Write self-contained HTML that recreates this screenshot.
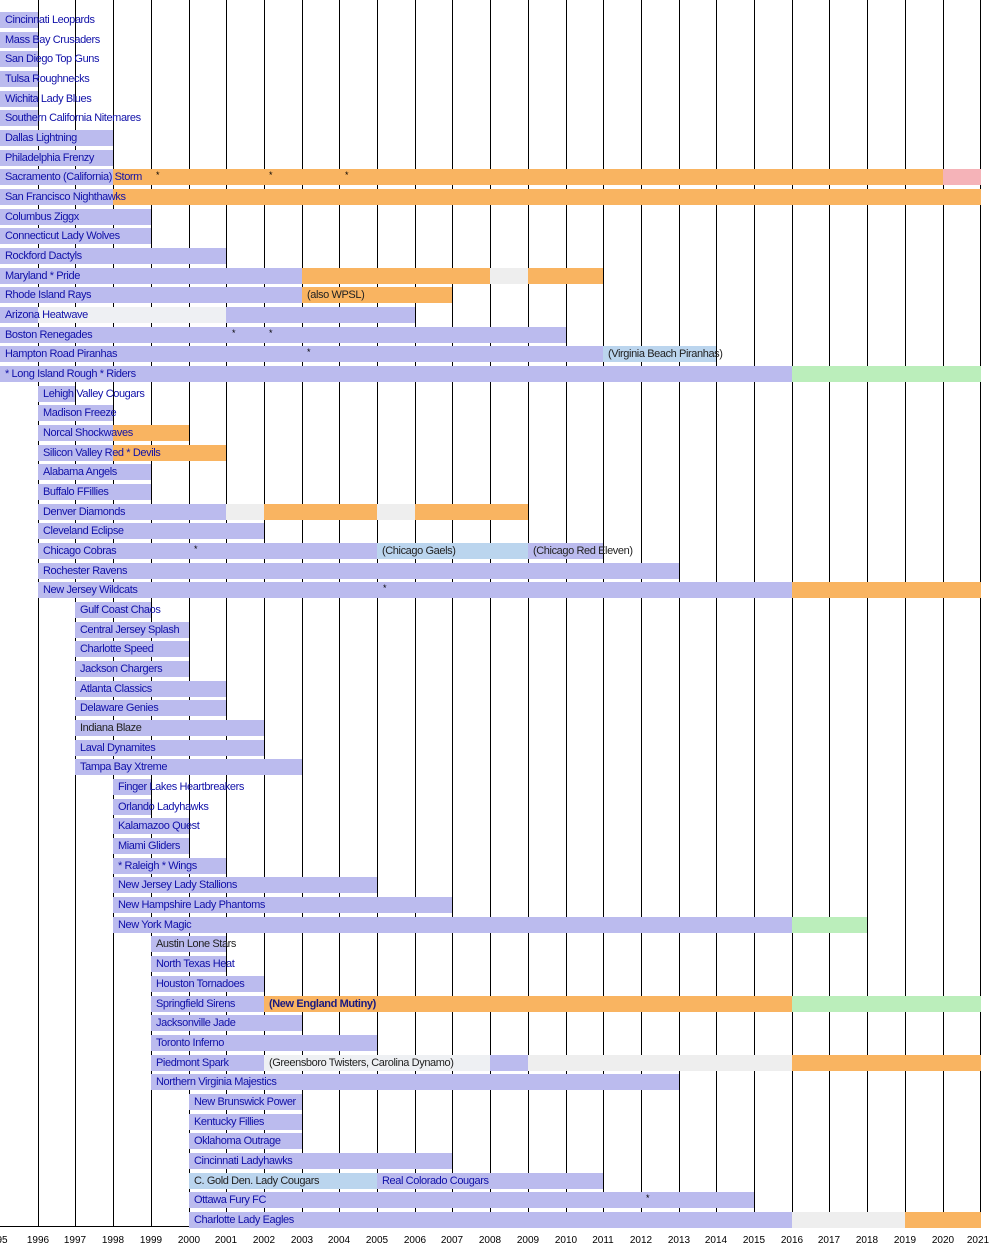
<!DOCTYPE html>
<html><head><meta charset="utf-8">
<style>
html,body{margin:0;padding:0;background:#fff;}
#c{position:relative;width:1000px;height:1245px;overflow:hidden;font-family:"Liberation Sans",Arial,sans-serif;}
.v{position:absolute;top:0;width:1px;height:1226px;background:#000;}
.b{position:absolute;height:16px;}
.t{position:absolute;font-size:11px;line-height:16px;white-space:nowrap;color:#1010a8;letter-spacing:-0.4px;z-index:3;}
.k{color:#222;}
.s{position:absolute;font-size:9px;color:#000;z-index:3;line-height:10px;}
.y{position:absolute;top:1235px;font-size:10px;color:#000;width:40px;text-align:center;}
</style></head><body><div id="c"></div>
<script>
var P='#bbbbee',O='#f9b461',G='#bbeebb',W='#eeeeee',K='#f5b3b8',L='#bbd5ee',Q='#eef0f3';
function X(y){return Math.round((y-1995)*37.7);}
var R=[
["Cincinnati Leopards",0,[[1995,1996,P]]],
["Mass Bay Crusaders",0,[[1995,1996,P]]],
["San Diego Top Guns",0,[[1995,1996,P]]],
["Tulsa Roughnecks",0,[[1995,1996,P]]],
["Wichita Lady Blues",0,[[1995,1996,P]]],
["Southern California Nitemares",0,[[1995,1996,P]]],
["Dallas Lightning",0,[[1995,1998,P]]],
["Philadelphia Frenzy",0,[[1995,1998,P]]],
["Sacramento (California) Storm",0,[[1995,1998,P],[1998,2020,O],[2020,2021,K]],[1999.2,2002.2,2004.2]],
["San Francisco Nighthawks",0,[[1995,1998,P],[1998,2021,O]]],
["Columbus Ziggx",0,[[1995,1999,P]]],
["Connecticut Lady Wolves",0,[[1995,1999,P]]],
["Rockford Dactyls",0,[[1995,2001,P]]],
["Maryland * Pride",0,[[1995,2003,P],[2003,2008,O],[2008,2009,W],[2009,2011,O]]],
["Rhode Island Rays",0,[[1995,2003,P],[2003,2007,O,"(also WPSL)",1]]],
["Arizona Heatwave",0,[[1995,1996,P],[1996,2001,Q],[2001,2006,P]]],
["Boston Renegades",0,[[1995,2010,P]],[2001.2,2002.2]],
["Hampton Road Piranhas",0,[[1995,2011,P],[2011,2014,L,"(Virginia Beach Piranhas)",1]],[2003.2]],
["* Long Island Rough * Riders",0,[[1995,2016,P],[2016,2021,G]]],
["Lehigh Valley Cougars",0,[[1996,1997,P]]],
["Madison Freeze",0,[[1996,1998,P]]],
["Norcal Shockwaves",0,[[1996,1998,P],[1998,2000,O]]],
["Silicon Valley Red * Devils",0,[[1996,1998,P],[1998,2001,O]]],
["Alabama Angels",0,[[1996,1999,P]]],
["Buffalo FFillies",0,[[1996,1999,P]]],
["Denver Diamonds",0,[[1996,2001,P],[2001,2002,W],[2002,2005,O],[2005,2006,W],[2006,2009,O]]],
["Cleveland Eclipse",0,[[1996,2002,P]]],
["Chicago Cobras",0,[[1996,2005,P],[2005,2009,L,"(Chicago Gaels)",1],[2009,2011,P,"(Chicago Red Eleven)",1]],[2000.2]],
["Rochester Ravens",0,[[1996,2013,P]]],
["New Jersey Wildcats",0,[[1996,2016,P],[2016,2021,O]],[2005.2]],
["Gulf Coast Chaos",0,[[1997,1999,P]]],
["Central Jersey Splash",0,[[1997,2000,P]]],
["Charlotte Speed",0,[[1997,2000,P]]],
["Jackson Chargers",0,[[1997,2000,P]]],
["Atlanta Classics",0,[[1997,2001,P]]],
["Delaware Genies",0,[[1997,2001,P]]],
["Indiana Blaze",1,[[1997,2002,P]]],
["Laval Dynamites",0,[[1997,2002,P]]],
["Tampa Bay Xtreme",0,[[1997,2003,P]]],
["Finger Lakes Heartbreakers",0,[[1998,1999,P]]],
["Orlando Ladyhawks",0,[[1998,1999,P]]],
["Kalamazoo Quest",0,[[1998,2000,P]]],
["Miami Gliders",0,[[1998,2000,P]]],
["* Raleigh * Wings",0,[[1998,2001,P]]],
["New Jersey Lady Stallions",0,[[1998,2005,P]]],
["New Hampshire Lady Phantoms",0,[[1998,2007,P]]],
["New York Magic",0,[[1998,2016,P],[2016,2018,G]]],
["Austin Lone Stars",1,[[1999,2001,P]]],
["North Texas Heat",0,[[1999,2001,P]]],
["Houston Tornadoes",0,[[1999,2002,P]]],
["Springfield Sirens",0,[[1999,2002,P],[2002,2016,O,"(New England Mutiny)",2],[2016,2021,G]]],
["Jacksonville Jade",0,[[1999,2003,P]]],
["Toronto Inferno",0,[[1999,2005,P]]],
["Piedmont Spark",0,[[1999,2002,P],[2002,2008,Q,"(Greensboro Twisters, Carolina Dynamo)",1],[2008,2009,P],[2009,2016,W],[2016,2021,O]]],
["Northern Virginia Majestics",0,[[1999,2013,P]]],
["New Brunswick Power",0,[[2000,2003,P]]],
["Kentucky Fillies",0,[[2000,2003,P]]],
["Oklahoma Outrage",0,[[2000,2003,P]]],
["Cincinnati Ladyhawks",0,[[2000,2007,P]]],
["C. Gold Den. Lady Cougars",1,[[2000,2005,L],[2005,2011,P,"Real Colorado Cougars",0]]],
["Ottawa Fury FC",0,[[2000,2015,P]],[2012.2]],
["Charlotte Lady Eagles",0,[[2000,2016,P],[2016,2019,W],[2019,2021,O]]]
];
var c=document.getElementById('c'),h='';
for(var y=1996;y<=2021;y++)h+='<div class="v" style="left:'+X(y)+'px"></div>';
h+='<div style="position:absolute;left:0;top:1226px;width:981px;height:1px;background:#000"></div>';
h+='<div class="y" style="left:-8px;width:20px;text-align:center">95</div>';
for(var y=1996;y<=2021;y++){h+='<div class="y" style="left:'+(X(y)-20+(y==2021?-2:0))+'px">'+y+'</div>';}
R.forEach(function(r,i){
 var top=Math.round(12+i*19.67);
 r[2].forEach(function(s){
  var x1=X(s[0]),x2=X(s[1]);if(s[1]==2021)x2=981;
  h+='<div class="b" style="left:'+x1+'px;top:'+top+'px;width:'+(x2-x1)+'px;background:'+s[2]+'"></div>';
  if(s[3]){var cls=s[4]==1?'t k':'t';var st=s[4]==2?'font-weight:bold;color:#1a1a80;':'';h+='<div class="'+cls+'" style="'+st+'left:'+(x1+5)+'px;top:'+top+'px">'+s[3]+'</div>';}
 });
 var x0=X(r[2][0][0]);
 h+='<div class="'+(r[1]?'t k':'t')+'" style="left:'+(x0+5)+'px;top:'+top+'px">'+r[0]+'</div>';
 if(r[3])r[3].forEach(function(s){h+='<div class="s" style="left:'+(X(s)-2)+'px;top:'+(top+1)+'px">*</div>';});
});
c.innerHTML=h;
</script></body></html>
